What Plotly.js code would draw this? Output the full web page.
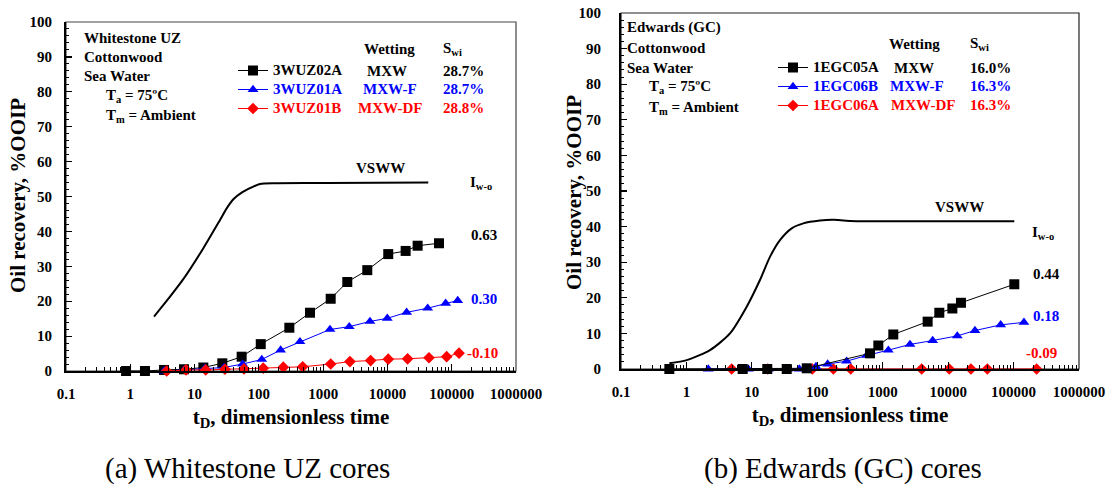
<!DOCTYPE html>
<html><head><meta charset="utf-8">
<script src="https://cdn.plot.ly/plotly-3.0.1.min.js"></script>
<style>html,body{margin:0;padding:0;background:#fff}#chart{width:1111px;height:487px}</style>
</head><body><div id="chart"></div>
<script>
// ---------- data: (a) Whitestone UZ ----------
const wuz02a_t = [0.86, 1.69, 3.35, 6.85, 13.7, 27, 54, 107, 298, 624, 1310, 2375, 4860, 10300, 19200, 29500, 63400];
const wuz02a_r = [0, 0, 0.3, 0.5, 1.0, 2.2, 4.1, 7.7, 12.4, 16.7, 20.7, 25.5, 28.9, 33.5, 34.4, 35.9, 36.6];
const wuz01a_t = [3.35, 6.85, 14.5, 28.7, 56, 111, 218, 436, 1277, 2550, 5350, 9950, 19900, 42300, 80500, 124000];
const wuz01a_r = [0, 0.3, 0.8, 1.0, 2.0, 3.3, 6.0, 8.4, 11.9, 12.7, 14.2, 15.1, 16.8, 18.0, 19.4, 20.2];
const wuz01b_t = [3.68, 7.36, 14.9, 29.7, 58.7, 117, 240, 480, 1310, 2610, 5480, 10300, 20600, 44300, 83400, 130000];
const wuz01b_r = [0, 0.3, 0.3, 0.5, 0.6, 0.8, 1.1, 1.2, 2.0, 2.7, 3.0, 3.4, 3.5, 3.8, 4.1, 5.1];
const vswwA_t = [2.34, 4.15, 6.85, 13.7, 24.9, 31.6, 40.1, 54, 77.3, 104, 189, 1135, 43200];
const vswwA_r = [15.6, 21.3, 26.6, 35.2, 43.3, 46.6, 49.2, 51.1, 52.6, 53.6, 53.8, 53.9, 54.0];

// ---------- data: (b) Edwards (GC) ----------
const egc05a_t = [0.548, 7.24, 17.2, 34.1, 68.9, 639, 857, 1452, 4860, 7330, 11600, 15700, 102600];
const egc05a_r = [0, 0, 0, 0, 0.2, 4.4, 6.6, 9.7, 13.3, 15.8, 17.0, 18.6, 23.8];
const egc06b_t = [2.16, 8.83, 17.9, 35.2, 53.2, 95.5, 144, 281, 569, 1219, 2610, 5800, 13800, 25700, 63500, 144000];
const egc06b_r = [0, 0, 0, 0, 0, 0.7, 1.4, 2.2, 3.8, 5.3, 6.9, 8.0, 9.3, 10.8, 12.4, 13.1];
const egc06a_t = [4.91, 17.5, 84, 176, 324, 3940, 10400, 22300, 39700, 225000];
const egc06a_r = [0, 0, 0, 0, 0, 0, 0, 0, 0, 0];
const vswwB_t = [0.548, 1.01, 2.29, 4.63, 8.34, 13.3, 18.9, 26.9, 40.6, 61.1, 110, 176, 316, 102600];
const vswwB_r = [1.6, 2.5, 5.3, 10.0, 17.5, 25.0, 31.5, 36.2, 39.5, 40.9, 41.7, 41.9, 41.6, 41.5];

// ---------- labels ----------
const coresA = ['3WUZ02A', '3WUZ01A', '3WUZ01B'];
const coresB = ['1EGC05A', '1EGC06B', '1EGC06A'];
const wetting = ['MXW', 'MXW-F', 'MXW-DF'];
const swiA = ['28.7%', '28.7%', '28.8%'];
const swiB = ['16.0%', '16.3%', '16.3%'];
const iwoA = ['0.63', '0.30', '-0.10'];
const iwoB = ['0.44', '0.18', '-0.09'];
const xTickVals = [0.1, 1, 10, 100, 1000, 10000, 100000, 1000000];
const xTickText = ['0.1', '1', '10', '100', '1000', '10000', '100000', '1000000'];
const yTickVals = [0, 10, 20, 30, 40, 50, 60, 70, 80, 90, 100];

const colors = ['#000000', '#0000ff', '#ff0000'];
const symbols = ['square', 'triangle-up', 'diamond'];
const msizes = [10, 9.5, 9];

const W = 1111, H = 487;
const FAM = 'Liberation Serif, Times New Roman, serif';
const px = v => v / W, py = v => 1 - v / H;

function series(t, r, i, name, xa, ya, leg) {
  return {
    x: t, y: r, type: 'scatter', mode: 'lines+markers', cliponaxis: false,
    name: '<span style="color:' + colors[i] + ';font-size:15px">' + name + '</span>',
    xaxis: xa, yaxis: ya, legend: leg,
    line: {color: colors[i], width: 1},
    marker: {symbol: symbols[i], size: msizes[i], color: colors[i], line: {width: 0}}
  };
}
function vsww(t, r, xa, ya) {
  return {x: t, y: r, type: 'scatter', mode: 'lines', xaxis: xa, yaxis: ya, showlegend: false,
    line: {color: '#000', width: 2, shape: 'spline', smoothing: 0.7}, cliponaxis: false};
}

const data = [
  vsww(vswwA_t, vswwA_r, 'x', 'y'),
  series(wuz02a_t, wuz02a_r, 0, coresA[0], 'x', 'y', 'legend'),
  series(wuz01a_t, wuz01a_r, 1, coresA[1], 'x', 'y', 'legend'),
  series(wuz01b_t, wuz01b_r, 2, coresA[2], 'x', 'y', 'legend'),
  vsww(vswwB_t, vswwB_r, 'x2', 'y2'),
  series(egc06a_t, egc06a_r, 2, coresB[2], 'x2', 'y2', 'legend2'),
  series(egc06b_t, egc06b_r, 1, coresB[1], 'x2', 'y2', 'legend2'),
  series(egc05a_t, egc05a_r, 0, coresB[0], 'x2', 'y2', 'legend2')
];

const tickFont = {family: FAM, size: 15, color: '#000', weight: 'bold'};
function xaxis(dom, anchor, titleStandoff) {
  return {
    type: 'log', range: [-1, 6], domain: dom, anchor: anchor,
    tickvals: xTickVals, ticktext: xTickText, tickfont: tickFont,
    ticks: 'inside', ticklen: 7, tickwidth: 1.2, tickcolor: '#000',
    minor: {ticks: 'inside', ticklen: 4, tickwidth: 1, tickcolor: '#000', dtick: 'D1', showgrid: false},
    showline: true, linecolor: '#000', linewidth: 2, showgrid: false, zeroline: false,
    ticklabelstandoff: 8, automargin: false,
    title: {text: 't<sub>D</sub>, dimensionless time', font: {family: FAM, size: 21, color: '#000', weight: 'bold'}, standoff: titleStandoff}
  };
}
function yaxis(dom, anchor, lstand) {
  return {
    range: [0, 100], domain: dom, anchor: anchor,
    tickvals: yTickVals, tickfont: tickFont,
    ticks: 'inside', ticklen: 6, tickwidth: 1.2, tickcolor: '#000',
    minor: {ticks: 'inside', ticklen: 3, tickwidth: 1, tickcolor: '#000', dtick: 2, showgrid: false},
    showline: true, linecolor: '#000', linewidth: 2, showgrid: false, zeroline: false,
    ticklabelstandoff: lstand, automargin: false
  };
}

const txtFont = (c, s) => ({family: FAM, size: s || 15, color: c || '#000', weight: 'bold'});
const ann = [];
function A(x, y, text, opts) {
  ann.push(Object.assign({x: px(x), y: py(y), xref: 'paper', yref: 'paper', text: text, showarrow: false,
    xanchor: 'left', yanchor: 'middle', font: txtFont()}, opts || {}));
}
// y-axis titles
const yTitle = 'Oil recovery, %OOIP';
A(18, 196, yTitle, {xanchor: 'center', textangle: -90, font: txtFont('#000', 21)});
A(574, 193, yTitle, {xanchor: 'center', textangle: -90, font: txtFont('#000', 21)});
// panel (a) texts
A(82, 38, 'Whitestone UZ'); A(82, 57, 'Cottonwood'); A(82, 76, 'Sea Water');
A(104, 96, 'T<sub>a</sub> = 75ºC'); A(104, 116, 'T<sub>m</sub> = Ambient');
A(389, 49, 'Wetting', {xanchor: 'center'});
A(441, 49, 'S<sub>wi</sub>');
const rowsA = [71, 89.5, 108];
const wetXA = [387, 390, 390];
for (let i = 0; i < 3; i++) {
  A(wetXA[i], rowsA[i], wetting[i], {xanchor: 'center', font: txtFont(colors[i])});
  A(441, rowsA[i], swiA[i], {font: txtFont(colors[i])});
}
A(380, 168, 'VSWW', {xanchor: 'center'});
A(468, 183, 'I<sub>w-o</sub>');
A(469, 235, iwoA[0], {font: txtFont(colors[0])});
A(469, 299, iwoA[1], {font: txtFont(colors[1])});
A(465, 353, iwoA[2], {font: txtFont(colors[2])});
// panel (b) texts
A(625, 28, 'Edwards (GC)'); A(625, 48, 'Cottonwood'); A(625, 68, 'Sea Water');
A(647, 87, 'T<sub>a</sub> = 75ºC'); A(647, 108, 'T<sub>m</sub> = Ambient');
A(914, 44, 'Wetting', {xanchor: 'center'});
A(968, 44, 'S<sub>wi</sub>');
const rowsB = [68, 86.5, 105];
const wetXB = [914, 917, 923];
for (let i = 0; i < 3; i++) {
  A(wetXB[i], rowsB[i], wetting[i], {xanchor: 'center', font: txtFont(colors[i])});
  A(968, rowsB[i], swiB[i], {font: txtFont(colors[i])});
}
A(959, 207, 'VSWW', {xanchor: 'center'});
A(1030, 233, 'I<sub>w-o</sub>');
A(1031, 274, iwoB[0], {font: txtFont(colors[0])});
A(1031, 316, iwoB[1], {font: txtFont(colors[1])});
A(1024, 353, iwoB[2], {font: txtFont(colors[2])});
// captions
A(247, 468, '(a) Whitestone UZ cores', {xanchor: 'center', font: {family: FAM, size: 29, color: '#000'}});
A(843, 468, '(b) Edwards (GC) cores', {xanchor: 'center', font: {family: FAM, size: 29, color: '#000'}});

const legendBase = {font: txtFont('#000', 12), bgcolor: 'rgba(0,0,0,0)', borderwidth: 0,
  xanchor: 'left', yanchor: 'top', itemclick: false, itemdoubleclick: false};

const layout = {
  width: W, height: H, paper_bgcolor: '#fff', plot_bgcolor: '#fff',
  margin: {l: 0, r: 0, t: 0, b: 0}, showlegend: true,
  font: {family: FAM, color: '#000'},
  xaxis: xaxis([px(66), px(516)], 'y', 8),
  yaxis: yaxis([py(371), py(22)], 'x', 9),
  xaxis2: xaxis([px(621), px(1079)], 'y2', 8),
  yaxis2: yaxis([py(369), py(13)], 'x2', 15),
  legend: Object.assign({}, legendBase, {x: px(233), y: py(56), traceorder: 'normal'}),
  legend2: Object.assign({}, legendBase, {x: px(773), y: py(53), traceorder: 'reversed'}),
  annotations: ann,
  shapes: [
    {type: 'rect', xref: 'x domain', yref: 'y domain', x0: 0, x1: 1, y0: 0, y1: 1, line: {color: '#444', width: 1.2}, layer: 'below'},
    {type: 'rect', xref: 'x2 domain', yref: 'y2 domain', x0: 0, x1: 1, y0: 0, y1: 1, line: {color: '#222', width: 1.2}, layer: 'below'}
  ]
};

Plotly.newPlot('chart', data, layout, {staticPlot: true, displayModeBar: false});
</script></body></html>
